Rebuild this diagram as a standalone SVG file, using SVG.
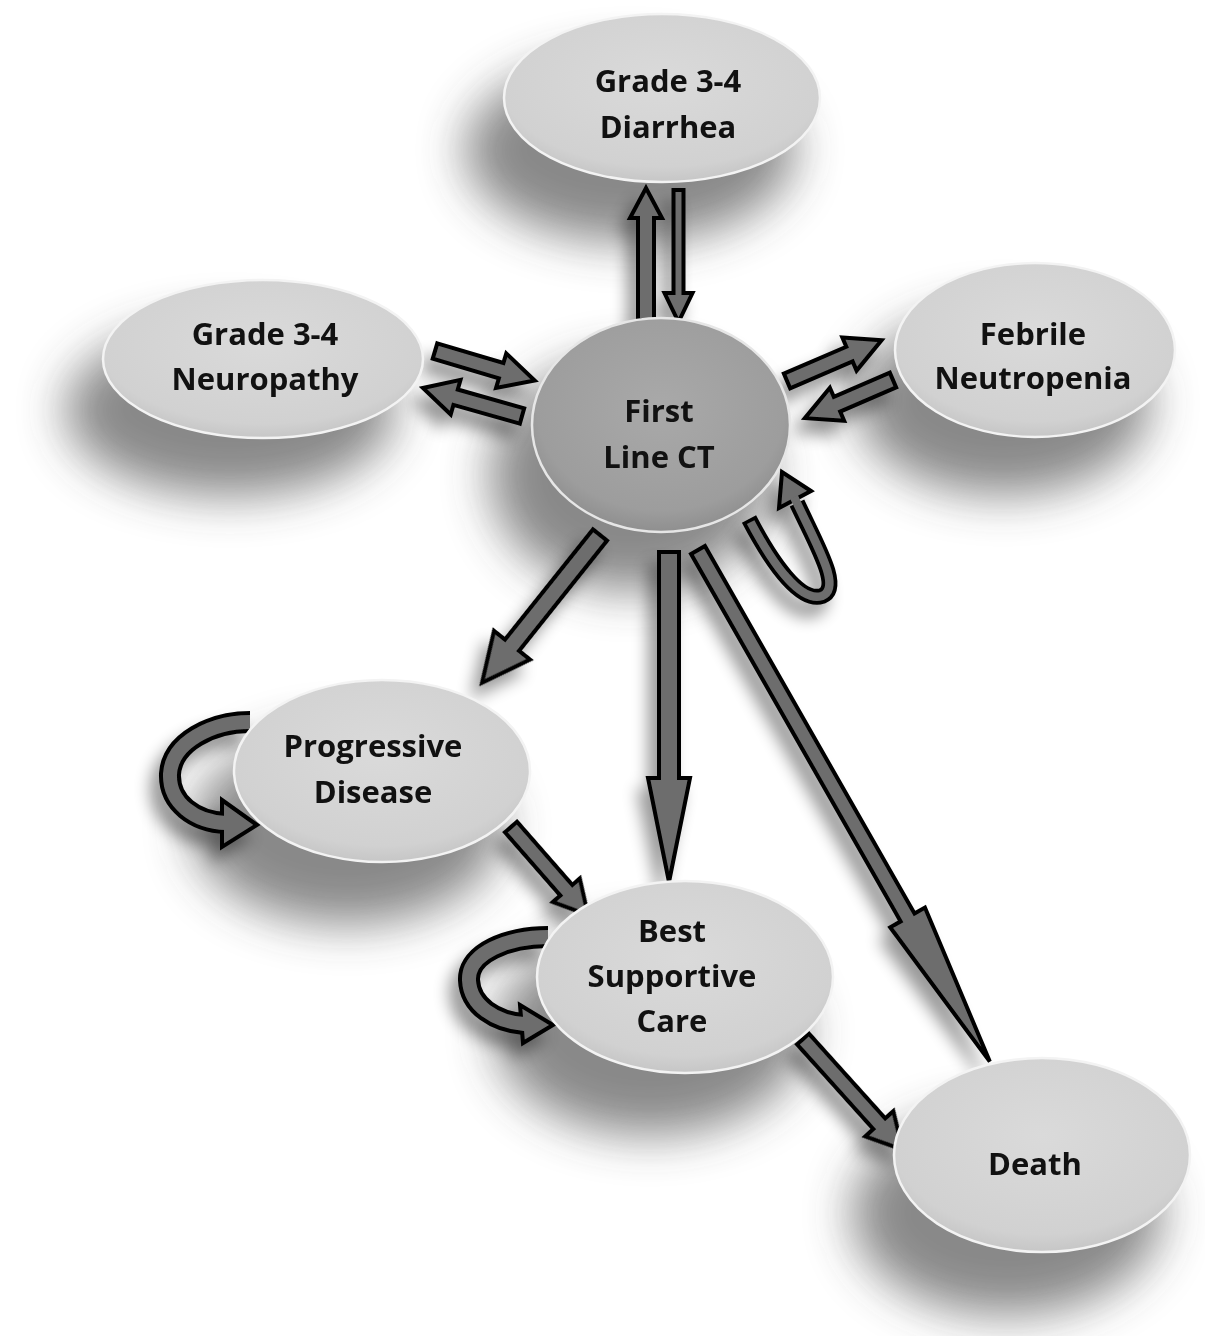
<svg xmlns="http://www.w3.org/2000/svg" width="1205" height="1336" viewBox="0 0 1205 1336">
<defs>
  <filter id="shadowBlur" x="-60%" y="-60%" width="220%" height="220%">
    <feGaussianBlur stdDeviation="24"/>
  </filter>
  <filter id="arrowShadow" x="-20%" y="-20%" width="140%" height="140%">
    <feGaussianBlur in="SourceAlpha" stdDeviation="8"/>
    <feOffset dx="-9" dy="13"/>
    <feComponentTransfer><feFuncA type="linear" slope="0.4"/></feComponentTransfer>
    <feMerge><feMergeNode/><feMergeNode in="SourceGraphic"/></feMerge>
  </filter>
  <radialGradient id="nodeFill" cx="50%" cy="40%" r="60%">
    <stop offset="0" stop-color="#dadada"/>
    <stop offset="0.85" stop-color="#d1d1d1"/>
    <stop offset="1" stop-color="#c6c6c6"/>
  </radialGradient>
  <radialGradient id="ctFill" cx="50%" cy="42%" r="60%">
    <stop offset="0" stop-color="#a9a9a9"/>
    <stop offset="0.8" stop-color="#9d9d9d"/>
    <stop offset="1" stop-color="#8c8c8c"/>
  </radialGradient>
  <style>
    .body { fill: url(#nodeFill); stroke: #f3f3f3; stroke-width: 2.5; }
    .ctbody { fill: url(#ctFill); stroke: #e6e6e6; stroke-width: 2.5; }
    .shadow { fill: #3a3a3a; opacity: 0.6; filter: url(#shadowBlur); }
    .label { font-family: "Open Sans", "Liberation Sans", sans-serif; font-weight: 700; font-size: 31px; fill: #111; text-anchor: middle; }
    .arrow { fill: #6d6d6d; stroke: #000; stroke-width: 4; stroke-linejoin: miter; }
    .loopOut { fill: none; stroke: #000; stroke-width: 22; }
    .loopIn { fill: none; stroke: #6d6d6d; stroke-width: 14; }
    .loopOutS { fill: none; stroke: #000; stroke-width: 16; }
    .loopInS { fill: none; stroke: #6d6d6d; stroke-width: 8.5; }
  </style>
</defs>
<rect x="0" y="0" width="1205" height="1336" fill="#fff"/>

<g id="shadows">
  <ellipse class="shadow" cx="630" cy="150" rx="165" ry="92"/>
  <ellipse class="shadow" cx="230" cy="410" rx="165" ry="86"/>
  <ellipse class="shadow" cx="1003" cy="403" rx="147" ry="92"/>
  <ellipse class="shadow" cx="630" cy="475" rx="140" ry="116"/>
  <ellipse class="shadow" cx="347" cy="828" rx="155" ry="96"/>
  <ellipse class="shadow" cx="650" cy="1033" rx="155" ry="102"/>
  <ellipse class="shadow" cx="1007" cy="1213" rx="155" ry="102"/>
</g>

<g id="connectors" filter="url(#arrowShadow)">
  <polygon class="arrow" points="0,-8 102,-8 102,-16 132,0 102,16 102,8 0,8" transform="translate(646,320) rotate(-90)"/>
  <polygon class="arrow" points="0,-5 103,-5 103,-14 132,0 103,14 103,5 0,5" transform="translate(678.5,190) rotate(90)"/>
  <polygon class="arrow" points="0,-8 69,-8 69,-18 104,0 69,18 69,8 0,8" transform="translate(435,351) rotate(16.5)"/>
  <polygon class="arrow" points="0,-8 69,-8 69,-18 103,0 69,18 69,8 0,8" transform="translate(522,416) rotate(195.8)"/>
  <polygon class="arrow" points="0,-8 68,-8 68,-18 103,0 68,18 68,8 0,8" transform="translate(787,381) rotate(-23.3)"/>
  <polygon class="arrow" points="0,-8 61,-8 61,-18 96,0 61,18 61,8 0,8" transform="translate(893,380) rotate(156.6)"/>
  <polygon class="arrow" points="0,-9 141,-9 141,-23 189,0 141,23 141,9 0,9" transform="translate(600,535) rotate(128.6)"/>
  <polygon class="arrow" points="0,-10 226,-10 226,-21 330,0 226,21 226,10 0,10" transform="translate(669,552) rotate(90)"/>
  <polygon class="arrow" points="0,-8 423,-8 423,-20 589,0 423,20 423,8 0,8" transform="translate(698,550) rotate(60.3)"/>
  <polygon class="arrow" points="0,-8 84,-8 84,-18 117,0 84,18 84,8 0,8" transform="translate(511,827) rotate(48.8)"/>
  <polygon class="arrow" points="0,-8 114,-8 114,-19 149,0 114,19 114,8 0,8" transform="translate(803,1039) rotate(48)"/>

  <!-- self loop First Line CT -->
  <path class="loopOutS" d="M749,519 C772,563 800,603 822,596 C842,588 818,548 797,503"/>
  <polygon class="arrow" points="811,491 782,472 779,508"/>
  <path class="loopInS" stroke-dasharray="0,3.5,2000" d="M749,519 C772,563 800,603 822,596 C842,588 818,548 797,503 L794,497"/>

  <!-- self loop Progressive Disease -->
  <path class="loopOut" d="M250,722 C212,722 172,742 170,774 C169,803 195,822 226,823"/>
  <polygon class="arrow" points="222,800 257,825 222,847"/>
  <path class="loopIn" d="M250,722 C212,722 172,742 170,774 C169,803 195,822 226,823 L231,823"/>

  <!-- self loop Best Supportive Care -->
  <path class="loopOut" d="M548,937 C508,937 468,953 469,980 C470,1006 496,1022 524,1024"/>
  <polygon class="arrow" points="520,1005 553,1025 523,1043"/>
  <path class="loopIn" d="M548,937 C508,937 468,953 469,980 C470,1006 496,1022 524,1024 L529,1024"/>
</g>

<g id="node-diarrhea">
  <ellipse class="body" cx="662" cy="98" rx="158" ry="84"/>
  <text class="label" x="668" y="92">Grade 3-4</text>
  <text class="label" x="668" y="138">Diarrhea</text>
</g>
<g id="node-neuropathy">
  <ellipse class="body" cx="263" cy="359" rx="160" ry="79"/>
  <text class="label" x="265" y="345">Grade 3-4</text>
  <text class="label" x="265" y="390">Neuropathy</text>
</g>
<g id="node-febrile">
  <ellipse class="body" cx="1035" cy="350" rx="140" ry="87"/>
  <text class="label" x="1033" y="345">Febrile</text>
  <text class="label" x="1033" y="389">Neutropenia</text>
</g>
<g id="node-firstline">
  <ellipse class="ctbody" cx="661" cy="425" rx="129" ry="107"/>
  <text class="label" x="659" y="422">First</text>
  <text class="label" x="659" y="468">Line CT</text>
</g>
<g id="node-progressive">
  <ellipse class="body" cx="382" cy="771" rx="148" ry="91"/>
  <text class="label" x="373" y="757">Progressive</text>
  <text class="label" x="373" y="803">Disease</text>
</g>
<g id="node-bsc">
  <ellipse class="body" cx="685" cy="977" rx="148" ry="96"/>
  <text class="label" x="672" y="942">Best</text>
  <text class="label" x="672" y="987">Supportive</text>
  <text class="label" x="672" y="1032">Care</text>
</g>
<g id="node-death">
  <ellipse class="body" cx="1042" cy="1155" rx="148" ry="97"/>
  <text class="label" x="1035" y="1175">Death</text>
</g>
</svg>
